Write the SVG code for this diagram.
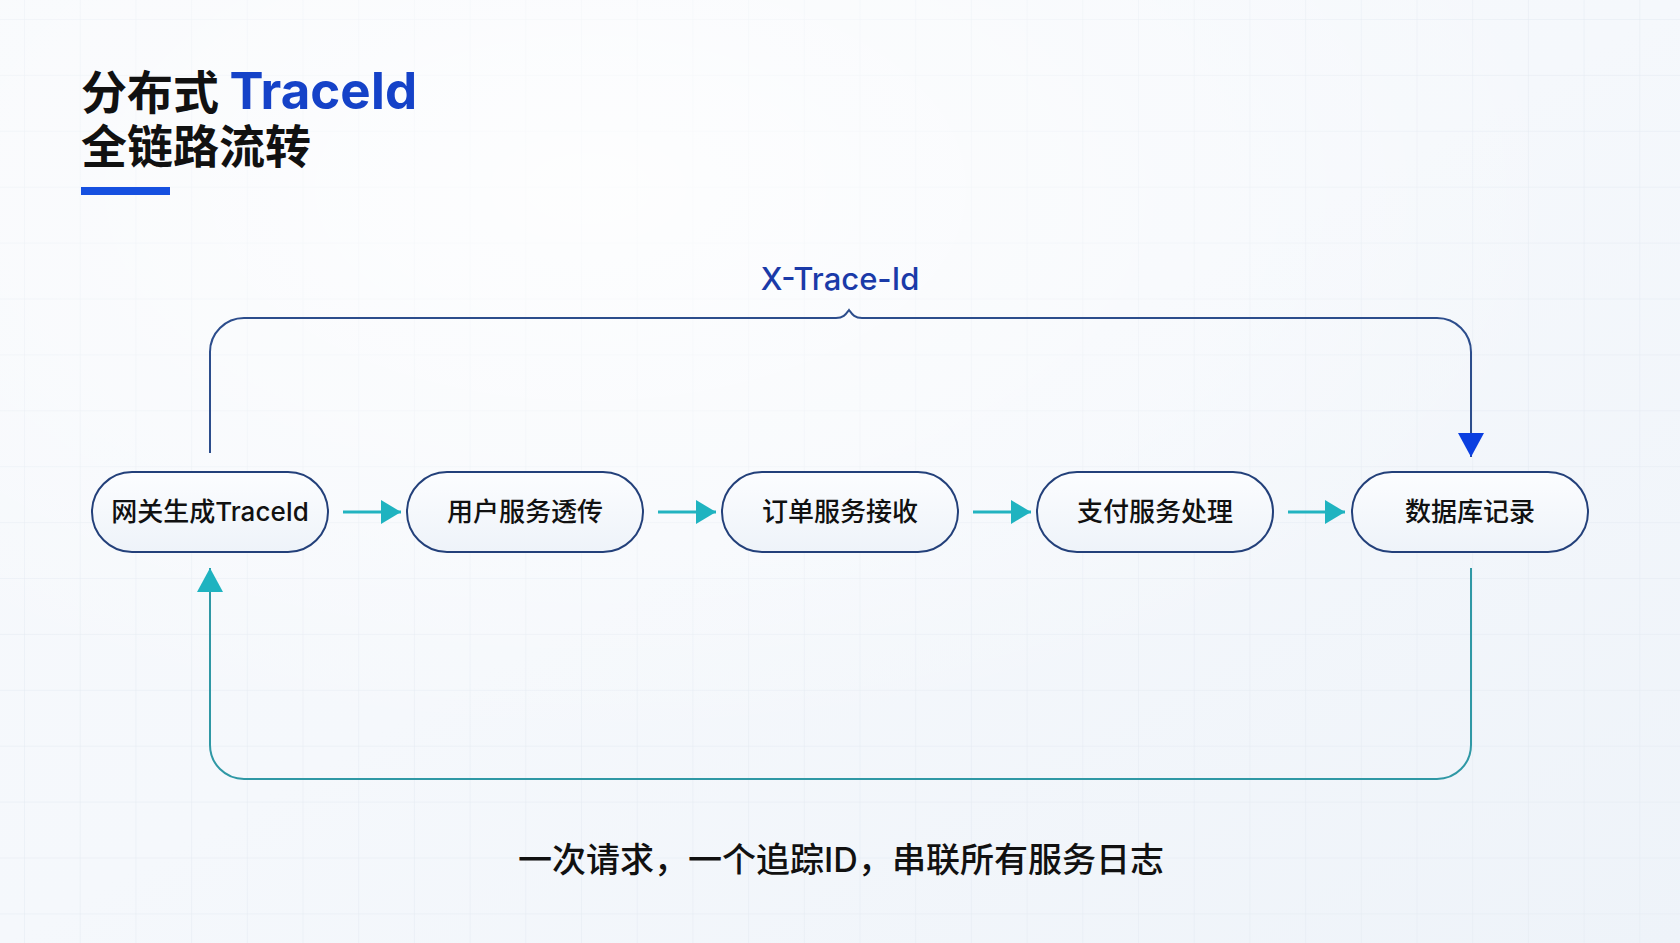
<svg xmlns="http://www.w3.org/2000/svg" width="1680" height="943" viewBox="0 0 1680 943">
<defs>
<style>
.node rect{fill:url(#nodeFill);stroke:#23407a;stroke-width:2}
.node text{font-family:Inter,"Noto Sans CJK SC",sans-serif;font-size:26px;font-weight:500;fill:#111;text-anchor:middle}
.flow{stroke:#22b3c0;stroke-width:3;fill:none;marker-end:url(#tealHead)}
</style>
<linearGradient id="bg" x1="0" y1="0" x2="1" y2="1">
<stop offset="0" stop-color="#f7f9fc"/>
<stop offset="0.5" stop-color="#f5f8fc"/>
<stop offset="1" stop-color="#eef3f9"/>
</linearGradient>
<radialGradient id="glow" cx="0.35" cy="0.2" r="0.6">
<stop offset="0" stop-color="#ffffff" stop-opacity="0.8"/>
<stop offset="1" stop-color="#ffffff" stop-opacity="0"/>
</radialGradient>
<linearGradient id="nodeFill" x1="0" y1="0" x2="0" y2="1">
<stop offset="0" stop-color="#fcfdff"/>
<stop offset="1" stop-color="#eef3f9"/>
</linearGradient>
<pattern id="grid" patternUnits="userSpaceOnUse" x="24" y="19" width="55.7" height="55.9">
<path d="M0,0 V55.9 M0,0 H55.7" stroke="#e3eaf1" stroke-width="1" fill="none"/>
</pattern>
<marker id="tealHead" markerUnits="userSpaceOnUse" markerWidth="20" markerHeight="24" refX="20" refY="12" orient="auto">
<path d="M0,0 L20,12 L0,24 Z" fill="#1fb3c0"/>
</marker>
<marker id="tealHeadUp" markerUnits="userSpaceOnUse" markerWidth="24" markerHeight="26" refX="24" refY="13" orient="auto">
<path d="M0,0 L24,13 L0,26 Z" fill="#1fb3c0"/>
</marker>
<marker id="blueHead" markerUnits="userSpaceOnUse" markerWidth="24" markerHeight="26" refX="24" refY="13" orient="auto">
<path d="M0,0 L24,13 L0,26 Z" fill="#0b3fe0"/>
</marker>
</defs>

<rect width="1680" height="943" fill="url(#bg)"/>
<rect width="1680" height="943" fill="url(#grid)"/>
<rect width="1680" height="943" fill="url(#glow)"/>

<g id="title">
<text x="81" y="109" font-family="Noto Sans CJK SC, sans-serif" font-weight="700" fill="#111"><tspan font-size="46">分布式 </tspan><tspan font-family="Inter, sans-serif" font-size="51" fill="#1542c8">TraceId</tspan></text>
<text x="81" y="163" font-family="Noto Sans CJK SC, sans-serif" font-weight="700" font-size="46" fill="#111">全链路流转</text>
<rect x="81" y="187" width="89" height="8" fill="#1650e0"/>
</g>

<g id="connectors">
<path d="M210,453 V352 A34,34 0 0 1 244,318 H836 C844,318 846,314 849,310 C852,314 854,318 862,318 H1437 A34,34 0 0 1 1471,352 V457" fill="none" stroke="#2c4d8c" stroke-width="2" marker-end="url(#blueHead)"/>
<path d="M1471,568 V745 A34,34 0 0 1 1437,779 H244 A34,34 0 0 1 210,745 V568" fill="none" stroke="#2f98a5" stroke-width="2" marker-end="url(#tealHeadUp)"/>
<path class="flow" d="M343,512 H401"/>
<path class="flow" d="M658,512 H716"/>
<path class="flow" d="M973,512 H1031"/>
<path class="flow" d="M1288,512 H1345"/>
<text x="840" y="290" font-family="Inter, sans-serif" font-size="31" font-weight="500" fill="#1a3aa8" text-anchor="middle">X-Trace-Id</text>
</g>

<g id="node1" class="node"><rect x="92" y="472" width="236" height="80" rx="40"/><text x="210" y="521">网关生成TraceId</text></g>
<g id="node2" class="node"><rect x="407" y="472" width="236" height="80" rx="40"/><text x="525" y="521">用户服务透传</text></g>
<g id="node3" class="node"><rect x="722" y="472" width="236" height="80" rx="40"/><text x="840" y="521">订单服务接收</text></g>
<g id="node4" class="node"><rect x="1037" y="472" width="236" height="80" rx="40"/><text x="1155" y="521">支付服务处理</text></g>
<g id="node5" class="node"><rect x="1352" y="472" width="236" height="80" rx="40"/><text x="1470" y="521">数据库记录</text></g>

<g id="caption">
<text x="841" y="872" font-family="Inter, Noto Sans CJK SC, sans-serif" font-size="34" font-weight="500" fill="#111" text-anchor="middle">一次请求，一个追踪ID，串联所有服务日志</text>
</g>
</svg>
